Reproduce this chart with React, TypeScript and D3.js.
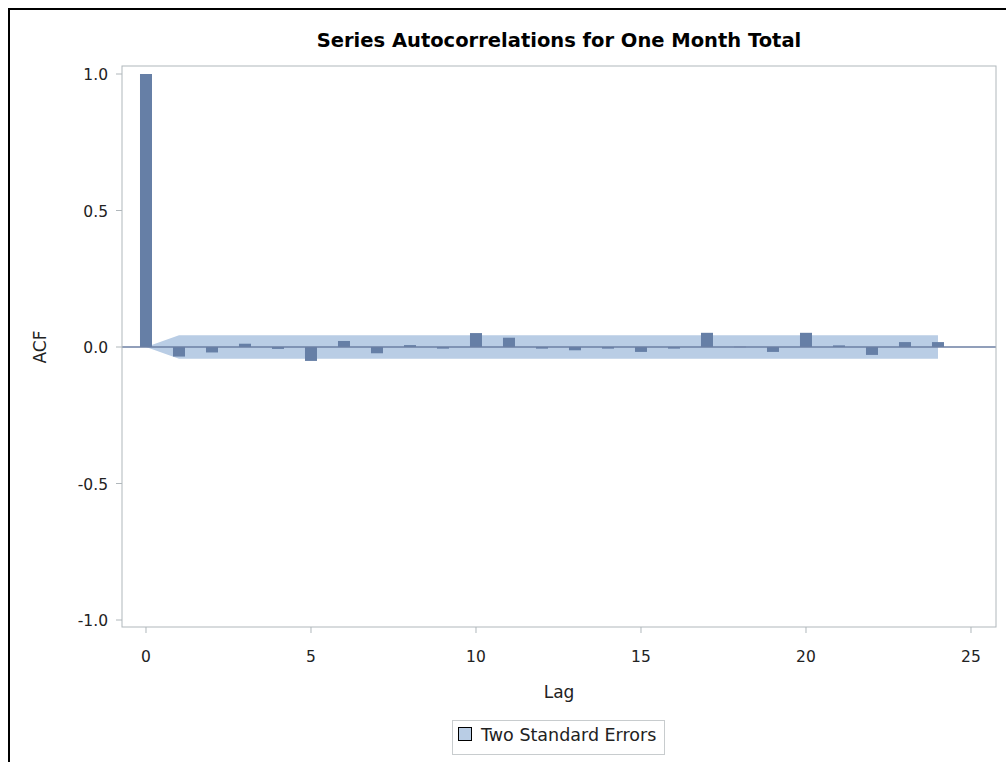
import React from "react";
import * as d3 from "d3";

const lags = [0,1,2,3,4,5,6,7,8,9,10,11,12,13,14,15,16,17,18,19,20,21,22,23,24];
const acf = [1.0,-0.035,-0.02,0.012,-0.007,-0.051,0.022,-0.023,0.007,-0.006,0.051,0.034,-0.006,-0.012,-0.006,-0.018,-0.006,0.052,0.001,-0.018,0.052,0.006,-0.029,0.018,0.018];
const seLags = [0,1,24];
const seUpper = [0,0.043,0.043];
const yTicks = [-1.0,-0.5,0.0,0.5,1.0];
const xTicks = [0,5,10,15,20,25];

const W = 1006, H = 762;
const plot = { left: 122, right: 996, top: 66, bottom: 627 };

export default function App() {
  const x = d3.scaleLinear().domain([-0.727, 25.758]).range([plot.left, plot.right]);
  const y = d3.scaleLinear().domain([-1, 1]).range([620, 74]);
  const barW = 12;
  const band = seLags.map((l, i) => ({ l, u: seUpper[i] }));
  const area = d3.area<{ l: number; u: number }>()
    .x(d => x(d.l))
    .y0(d => y(-d.u))
    .y1(d => y(d.u));
  const font = "'DejaVu Sans', Verdana, sans-serif";
  const midX = (plot.left + plot.right) / 2;
  return (
    <svg width={W} height={H} style={{ position: "absolute", left: 0, top: 0 }} fontFamily={font}>
      <rect x={0} y={0} width={W} height={H} fill="#fff" />
      <rect x={9} y={9} width={W + 20} height={H + 20} fill="none" stroke="#000" strokeWidth={2} />
      <text x={midX} y={47} textAnchor="middle" fontSize={19.5} fontWeight="bold" fill="#000">
        Series Autocorrelations for One Month Total
      </text>
      <path d={area(band) || ""} fill="#B9CDE5" />
      {lags.map((l, i) => {
        const v = acf[i];
        const y0 = y(Math.max(0, v));
        const y1 = y(Math.min(0, v));
        return <rect key={l} x={x(l) - barW / 2} y={y0} width={barW} height={Math.max(0.5, y1 - y0)} fill="#667FA6" />;
      })}
      <line x1={plot.left} x2={plot.right} y1={y(0)} y2={y(0)} stroke="#6C7FA3" strokeWidth={1.5} />
      <rect x={plot.left} y={plot.top} width={plot.right - plot.left} height={plot.bottom - plot.top} fill="none" stroke="#B0B7BB" strokeWidth={1} />
      {yTicks.map(t => (
        <g key={t}>
          <line x1={plot.left - 6} x2={plot.left} y1={y(t)} y2={y(t)} stroke="#B0B7BB" />
          <text x={plot.left - 14} y={y(t) + 6} textAnchor="end" fontSize={15.5} fill="#222">{t.toFixed(1)}</text>
        </g>
      ))}
      {xTicks.map(t => (
        <g key={t}>
          <line x1={x(t)} x2={x(t)} y1={plot.bottom} y2={plot.bottom + 6} stroke="#B0B7BB" />
          <text x={x(t)} y={plot.bottom + 35} textAnchor="middle" fontSize={15.5} fill="#222">{t}</text>
        </g>
      ))}
      <text transform={`translate(46,${y(0)}) rotate(-90)`} textAnchor="middle" fontSize={17} fill="#222">ACF</text>
      <text x={midX} y={698} textAnchor="middle" fontSize={17} fill="#222">Lag</text>
      <rect x={452.5} y={720.5} width={212} height={34} fill="#fff" stroke="#C8CCCE" />
      <rect x={458.5} y={727.5} width={13} height={13} fill="#B9CDE5" stroke="#000" strokeWidth={1} />
      <text x={481} y={741} fontSize={17.5} fill="#222">Two Standard Errors</text>
    </svg>
  );
}
